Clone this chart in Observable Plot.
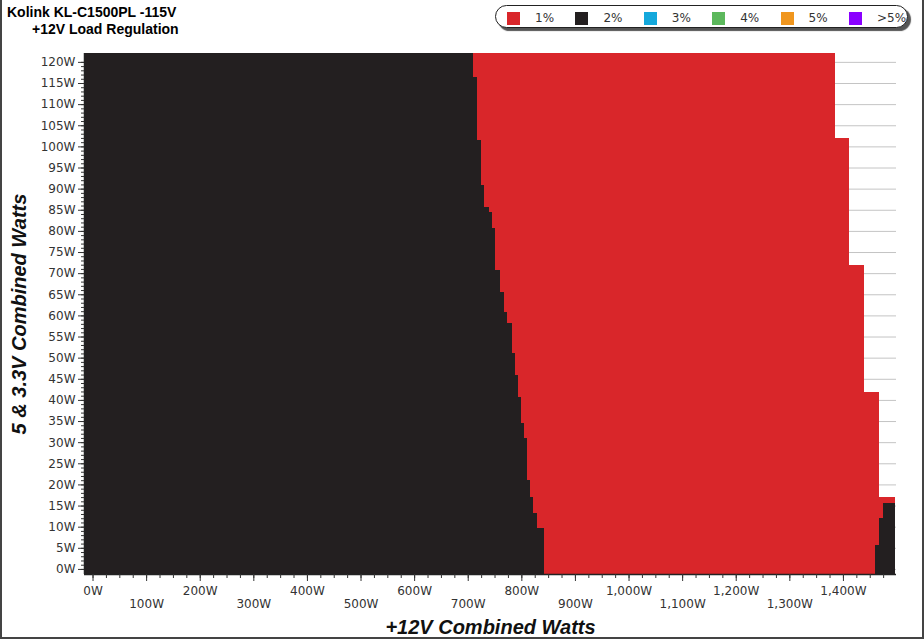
<!DOCTYPE html>
<html>
<head>
<meta charset="utf-8">
<script src="https://cdn.jsdelivr.net/npm/d3@7"></script>
<script src="https://cdn.jsdelivr.net/npm/@observablehq/plot@0.6"></script>
<style>
  html, body { margin: 0; padding: 0; background: #fff; }
  #page { position: relative; width: 924px; height: 639px; overflow: hidden; background: #fff; }
  .t { position: absolute; font-family: "Liberation Sans", Arial, sans-serif; font-weight: bold; font-size: 14px; line-height: 14px; color: #000; white-space: nowrap; }
  #legend { position: absolute; left: 495px; top: 5px; width: 413px; height: 23px; box-sizing: border-box;
            border: 1.5px solid #222; border-radius: 12px; box-shadow: 3px 3px 1px #555; background: #fff; }
  .sw { position: absolute; width: 13px; height: 13px; top: 12px; }
  .lt { position: absolute; top: 11.5px; font-family: "DejaVu Sans", Verdana, sans-serif; font-size: 12px; line-height: 12px; color: #333; white-space: nowrap; }
  #chart { position: absolute; left: 0; top: 40px; }
  #frame { position: absolute; left: 0; top: 0; width: 924px; height: 639px; box-sizing: border-box;
           border-left: 2px solid #444; border-right: 2px solid #444; border-bottom: 2px solid #444; pointer-events: none; }
</style>
</head>
<body>
<div id="page">
  <div class="t" style="left:7px;top:5px">Kolink KL-C1500PL -115V</div>
  <div class="t" style="left:32px;top:22px">+12V Load Regulation</div>
  <div id="chart"></div>
  <div id="frame"></div>
</div>
<script>
// ---- data ----
const categories = ["1%", "2%", "3%", "4%", "5%", ">5%"];
const colors = ["#d9262a", "#231f20", "#14a8dc", "#5cb85c", "#f0961e", "#8a00ff"];

// chart extent (W)
const xMin = -15.9, xMax = 1499;
const yMin = -1.2, yMax = 122.1;

// 2% region at light +12V load: row edges (5V&3.3V W) and +12V limit (W)
const lowRowEdges = [122.1, 116.4, 101.5, 90.8, 85.6, 84.4, 80.7, 70.7, 65.5, 60.8, 58.2, 51.1, 45.9, 40.7, 34.5, 31.0, 21.1, 17.0, 13.2, 9.7, -1.2];
const lowLimit2 = [709.9, 717.4, 724.8, 730.4, 739.7, 745.3, 750.9, 760.3, 766.8, 773.3, 782.6, 788.2, 793.8, 799.4, 805.0, 810.6, 816.2, 821.8, 829.3, 842.4];

// upper rows: row edges and max +12V load of the 1% region
const highRowEdges = [122.1, 102.0, 71.9, 41.9, 17.0, 15.6, 12.1, 5.7, -1.2];
const limit1 = [1385.3, 1411.4, 1439.4, 1467.4, 1497, 1474.8, 1467.4, 1459.9];
// 2% region at full load (end of row), null = none
const highLimit2 = [null, null, null, null, null, 1497, 1497, 1497];

// tick values
const yMajor = d3.range(0, 121, 5);
const yMinor = d3.range(0, 121, 1);
const xMajor = d3.range(0, 1401, 100);
const xMinor = d3.range(0, 1476, 25);
const xEven = xMajor.filter(d => d % 200 === 0);
const xOdd = xMajor.filter(d => d % 200 !== 0);

const xTitle = "+12V Combined Watts";
const yTitle = "5 & 3.3V Combined Watts";

// ---- build cells ----
const cells = [];
limit1.forEach((v, i) => cells.push({y1: highRowEdges[i + 1], y2: highRowEdges[i], x1: xMin, x2: v, cat: "1%"}));
lowLimit2.forEach((v, i) => cells.push({y1: lowRowEdges[i + 1], y2: lowRowEdges[i], x1: xMin, x2: v, cat: "2%"}));
highLimit2.forEach((v, i) => { if (v != null) cells.push({y1: highRowEdges[i + 1], y2: highRowEdges[i], x1: limit1[i], x2: v, cat: "2%"}); });

const wfmt = d => d3.format(",")(d) + "W";
const tickFont = {fontFamily: "DejaVu Sans", fontSize: 12};

const chart = Plot.plot({
  width: 924,
  height: 599,
  marginTop: 13,
  marginBottom: 65,
  marginLeft: 84,
  marginRight: 28,
  style: {background: "transparent", fontFamily: "DejaVu Sans", fontSize: "12px", color: "#333"},
  x: {domain: [xMin, xMax]},
  y: {domain: [yMin, yMax]},
  color: {domain: categories, range: colors},
  marks: [
    Plot.gridY(yMajor, {stroke: "#c4c4c4", strokeOpacity: 1, strokeWidth: 1}),
    Plot.rect(cells, {x1: "x1", x2: "x2", y1: "y1", y2: "y2", fill: "cat", shapeRendering: "crispEdges"}),
    Plot.ruleX([xMin], {stroke: "#222", strokeWidth: 1.5}),
    Plot.ruleY([yMin], {stroke: "#222", strokeWidth: 1.5}),
    Plot.axisY(yMinor, {tickSize: 3, tickFormat: () => "", label: null, stroke: "#333"}),
    Plot.axisY(yMajor, {tickSize: 6, tickPadding: 3, tickFormat: d => d + "W", label: null, stroke: "#333", fill: "#333", ...tickFont}),
    Plot.axisX(xMinor, {tickSize: 4, tickFormat: () => "", label: null, stroke: "#333"}),
    Plot.axisX(xMajor, {tickSize: 7, tickFormat: () => "", label: null, stroke: "#333"}),
    Plot.text(xEven, {x: d => d, text: wfmt, frameAnchor: "bottom", dy: 20, fill: "#333", ...tickFont}),
    Plot.text(xOdd, {x: d => d, text: wfmt, frameAnchor: "bottom", dy: 33.5, fill: "#333", ...tickFont}),
    Plot.text([xTitle], {text: d => d, frameAnchor: "bottom", dy: 59, lineAnchor: "bottom", textAnchor: "middle",
      fontFamily: "Liberation Sans", fontWeight: "bold", fontStyle: "italic", fontSize: 20, fill: "#111"}),
    Plot.text([yTitle], {text: d => d, frameAnchor: "left", dx: -59, rotate: -90, lineAnchor: "bottom", textAnchor: "middle",
      fontFamily: "Liberation Sans", fontWeight: "bold", fontStyle: "italic", fontSize: 20, fill: "#111"})
  ]
});
document.getElementById("chart").appendChild(chart);

// ---- legend ----
const page = document.getElementById("page");
const legend = document.createElement("div");
legend.id = "legend";
page.insertBefore(legend, document.getElementById("chart"));
categories.forEach((c, i) => {
  const left = 507 + i * 68.4;
  const sw = document.createElement("div");
  sw.className = "sw";
  sw.style.left = (left) + "px";
  sw.style.background = colors[i];
  page.appendChild(sw);
  const lt = document.createElement("div");
  lt.className = "lt";
  lt.style.left = (left + 28) + "px";
  lt.textContent = c;
  page.appendChild(lt);
});
page.appendChild(document.getElementById("frame"));
</script>
</body>
</html>
